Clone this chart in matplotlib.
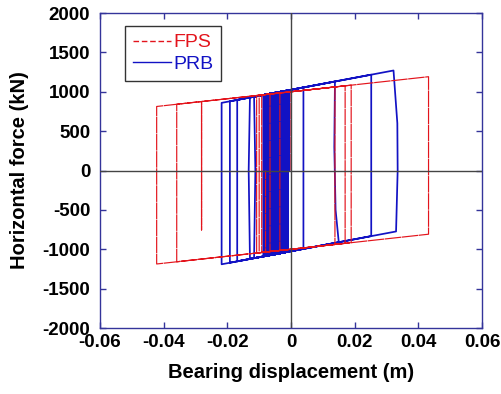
import matplotlib
matplotlib.use("Agg")
import matplotlib.pyplot as plt
from matplotlib.lines import Line2D

plt.rcParams["font.family"] = ["Liberation Sans", "DejaVu Sans"]
plt.rcParams["path.simplify"] = False

# Force-displacement path of the friction pendulum system (FPS): vertices in order
fps_disp = [0.0, 0.0, 0.0138, 0.0138, -0.0108, -0.0108, 0.0189, 0.0189,
            -0.0359, -0.0359, 0.0432, 0.0432, -0.0422, -0.0422, -0.0281,
            -0.0281, -0.0281, 0.0170, 0.0170, -0.0100, -0.0100, -0.0035,
            -0.0035, -0.0092, -0.0092, -0.0066, -0.0066, -0.0080, -0.0080]
fps_force = [0, 1000, 1061, -939, -1048, 952, 1084, -916,
             -1159, 841, 1191, -809, -1187, 813, 876,
             -755, 876, 1075, -925, -1044, 956, 985,
             -1015, -1041, 959, 971, -1029, -1035, 0]

# PRB bearing: large cycles, vertices in order
prb_disp = [-0.0005, -0.0005, 0.0039, 0.0039, -0.0169, -0.0169,
            0.0138, 0.0136, 0.0140, 0.0150, -0.0192, -0.0192,
            0.0322, 0.0334, 0.0335, 0.0330, -0.0218, -0.0218,
            0.0252, 0.0252, -0.0129, -0.0133, -0.0129,
            -0.0009, -0.0009, -0.0116, -0.0112, -0.0116]
prb_force = [0, 1021, 1055, -995, -1153, 897,
             1130, 300, -500, -911, -1171, 879,
             1270, 600, 0, -774, -1191, 859,
             1217, -833, -1123, 0, 927,
             1018, -1032, -1113, 0, 937]

# PRB bearing: small cycles near the origin, one entry per reversal
# (alternating: right-hand reversal, left-hand reversal, ...)
prb_small_disp = [-0.0011, -0.0087, -0.0013, -0.0085, -0.0015, -0.0083,
                  -0.0017, -0.0081, -0.0019, -0.0079, -0.0021, -0.0077,
                  -0.0023, -0.0075, -0.0025, -0.0073, -0.0027, -0.0071,
                  -0.0029, -0.0069, -0.0031, -0.0067, -0.0033, -0.0065,
                  -0.0035, -0.0063, -0.0037, -0.0061, -0.0039, -0.0059,
                  -0.0041, -0.0057, -0.0043, -0.0055, -0.0045, -0.0053,
                  -0.0047, -0.0051, -0.0049]
prb_small_upper = [1017, 959, 1015, 960, 1014, 962,
                   1012, 963, 1011, 965, 1009, 966,
                   1008, 968, 1006, 970, 1004, 971,
                   1003, 973, 1001, 974, 1000, 976,
                   998, 977, 997, 979, 995, 980,
                   994, 982, 992, 983, 991, 985,
                   989, 986, 988]
prb_small_lower = [-1033, -1091, -1035, -1090, -1036, -1088,
                   -1038, -1087, -1039, -1085, -1041, -1084,
                   -1043, -1082, -1044, -1081, -1046, -1079,
                   -1047, -1077, -1049, -1076, -1050, -1074,
                   -1052, -1073, -1053, -1071, -1055, -1070,
                   -1056, -1068, -1058, -1067, -1059, -1065,
                   -1061, -1064, -1062]

series_names = ["FPS", "PRB"]

x_ticks = [-0.06, -0.04, -0.02, 0.0, 0.02, 0.04, 0.06]
x_tick_labels = ["-0.06", "-0.04", "-0.02", "0", "0.02", "0.04", "0.06"]
y_ticks = [-2000, -1500, -1000, -500, 0, 500, 1000, 1500, 2000]
y_tick_labels = ["-2000", "-1500", "-1000", "-500", "0", "500", "1000", "1500", "2000"]

red = "#e3141c"
blue = "#1212c4"
frame_color = "#34349a"

# Assemble the full PRB path: at a right-hand reversal the force drops from
# the upper to the lower branch, at a left-hand reversal it rises back.
prb_x = list(prb_disp)
prb_f = list(prb_force)
for i, (d, up, lo) in enumerate(zip(prb_small_disp, prb_small_upper, prb_small_lower)):
    if i % 2 == 0:
        prb_x += [d, d]
        prb_f += [up, lo]
    else:
        prb_x += [d, d]
        prb_f += [lo, up]

fig = plt.figure(figsize=(5.02, 3.94), dpi=100)
ax = fig.add_axes([0.1992, 0.1675, 0.761, 0.7995])

ax.plot(prb_x, prb_f, color=blue, lw=1.25, zorder=2)
ax.plot(fps_disp, fps_force, color=red, lw=0.85, ls=(0, (14, 0.5)), zorder=2.5)

ax.axhline(0, color="#444444", lw=1.0, zorder=3)
ax.axvline(0, color="#444444", lw=1.0, zorder=3)

ax.set_xlim(-0.06, 0.06)
ax.set_ylim(-2000, 2000)
ax.set_xticks(x_ticks)
ax.set_xticklabels(x_tick_labels)
ax.set_yticks(y_ticks)
ax.set_yticklabels(y_tick_labels)

for sp in ax.spines.values():
    sp.set_color(frame_color)
    sp.set_linewidth(1.0)

ax.tick_params(direction="in", length=4.5, width=1.0, color=frame_color,
               top=True, right=True, labelsize=13.5, labelcolor="black")
ax.tick_params(axis="x", pad=4)
ax.tick_params(axis="y", pad=7)
for lab in ax.get_xticklabels() + ax.get_yticklabels():
    lab.set_fontweight("bold")

ax.set_xlabel("Bearing displacement (m)", fontsize=14.5, fontweight="bold", labelpad=9)
ax.set_ylabel("Horizontal force (kN)", fontsize=14.5, fontweight="bold", labelpad=10)

handles = [Line2D([], [], color=red, lw=1.0, ls=(0, (4, 2))),
           Line2D([], [], color=blue, lw=1.0)]
leg = ax.legend(handles, series_names, loc="upper left",
                bbox_to_anchor=(0.065, 0.959), borderaxespad=0,
                fancybox=False, edgecolor="#333333", framealpha=1,
                fontsize=14, handlelength=1.95, handletextpad=0.15,
                labelspacing=0.22, borderpad=0.4)
leg.get_frame().set_linewidth(1.0)
for txt, col in zip(leg.get_texts(), [red, blue]):
    txt.set_color(col)

fig.savefig("out.png", dpi=100)
